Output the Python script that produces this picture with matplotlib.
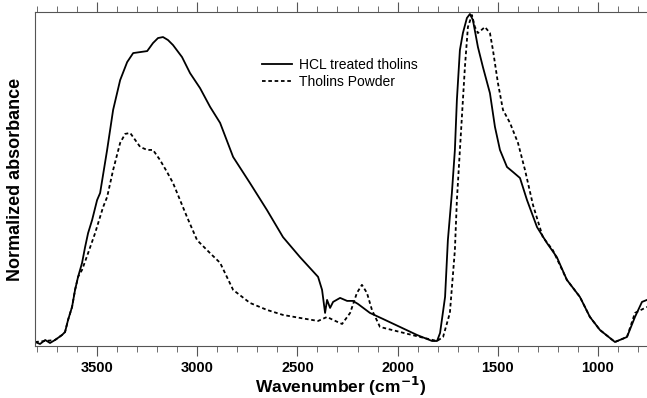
import numpy as np
import matplotlib
matplotlib.use('Agg')
import matplotlib.pyplot as plt
from matplotlib.ticker import MultipleLocator

plt.rcParams['font.family'] = ['Liberation Sans', 'DejaVu Sans']

# HCL treated tholins (wavenumber, normalized absorbance)
hcl_wn = [3809, 3785, 3759, 3735, 3710, 3675, 3660, 3645, 3625, 3610, 3595, 3575, 3560,
          3545, 3525, 3500, 3485, 3450, 3420, 3385,
          3350, 3320, 3285, 3250, 3221, 3196, 3171, 3146, 3121, 3076, 3036, 2986,
          2936, 2886, 2821, 2737, 2652, 2572, 2487, 2397, 2377, 2362, 2352, 2337,
          2322, 2287, 2252, 2223, 2198, 2138, 2073, 1988, 1903, 1828, 1803, 1788,
          1763, 1749, 1729, 1714, 1704, 1689, 1674, 1654, 1639, 1624, 1599, 1574,
          1539, 1514, 1489, 1454, 1424, 1389, 1354, 1304, 1254, 1205, 1155, 1090,
          1040, 990, 915, 855, 815, 780, 755]
hcl_abs = [0.012, 0.006, 0.018, 0.009, 0.018, 0.033, 0.042, 0.078, 0.117, 0.168, 0.207, 0.249, 0.296,
           0.338, 0.377, 0.437, 0.458, 0.587, 0.707, 0.796,
           0.850, 0.877, 0.880, 0.883, 0.907, 0.922, 0.925, 0.916, 0.901, 0.865, 0.817, 0.772,
           0.716, 0.668, 0.566, 0.488, 0.407, 0.326, 0.266, 0.207, 0.168, 0.099, 0.138, 0.114,
           0.132, 0.144, 0.135, 0.135, 0.126, 0.099, 0.081, 0.057, 0.033, 0.015, 0.015, 0.039,
           0.147, 0.317, 0.458, 0.587, 0.737, 0.886, 0.937, 0.982, 0.994, 0.976, 0.895, 0.835,
           0.757, 0.656, 0.587, 0.536, 0.521, 0.503, 0.437, 0.356, 0.308, 0.266, 0.198, 0.147,
           0.087, 0.048, 0.012, 0.027, 0.087, 0.132, 0.138]

# Tholins powder
pow_wn = [3809, 3710, 3675, 3660, 3645, 3625, 3610, 3595, 3575, 3545, 3510, 3470, 3450,
          3420, 3385, 3360, 3335,
          3310, 3285, 3250, 3221, 3186, 3151, 3121, 3086, 3051, 3001, 2936, 2886,
          2821, 2737, 2652, 2572, 2487, 2397, 2352, 2322, 2277, 2237, 2203, 2178,
          2153, 2128, 2088, 1988, 1888, 1803, 1773, 1739, 1714, 1704, 1679, 1664,
          1649, 1629, 1614, 1599, 1564, 1539, 1524, 1499, 1474, 1439, 1399, 1364,
          1324, 1275, 1225, 1155, 1090, 1040, 990, 915, 855, 815, 755]
pow_abs = [0.012, 0.018, 0.033, 0.042, 0.078, 0.117, 0.168, 0.207, 0.228, 0.278, 0.338, 0.416, 0.446,
           0.527, 0.608, 0.635, 0.638,
           0.617, 0.596, 0.587, 0.587, 0.557, 0.521, 0.488, 0.437, 0.386, 0.317, 0.278, 0.249,
           0.168, 0.129, 0.108, 0.093, 0.084, 0.075, 0.087, 0.078, 0.066, 0.099, 0.159, 0.183,
           0.159, 0.108, 0.057, 0.042, 0.027, 0.015, 0.027, 0.099, 0.287, 0.437, 0.686, 0.835,
           0.955, 0.991, 0.955, 0.937, 0.955, 0.937, 0.886, 0.787, 0.707, 0.668, 0.608, 0.527,
           0.422, 0.326, 0.287, 0.198, 0.147, 0.087, 0.048, 0.012, 0.027, 0.099, 0.117]

fig = plt.figure(figsize=(6.47, 3.98), dpi=100)
ax = fig.add_axes([35/647, 1-346/398, 1-35/647, (346-12)/398])

ax.plot(hcl_wn, hcl_abs, color='black', lw=1.3, label='HCL treated tholins')
ax.plot(pow_wn, pow_abs, color='black', lw=1.3, ls=(0, (2, 1.5)), label='Tholins Powder')

ax.set_xlim(3810, 755)
ax.set_ylim(0, 1)
ax.xaxis.set_major_locator(MultipleLocator(500))
ax.xaxis.set_minor_locator(MultipleLocator(100))
ax.set_yticks([])
ax.tick_params(axis='x', which='both', direction='out', top=True, color='#555555')
ax.tick_params(axis='x', which='major', length=7, labelsize=10.5)
ax.tick_params(axis='x', which='minor', length=4)
for lab in ax.get_xticklabels():
    lab.set_fontweight('bold')
for s in ['left', 'top', 'bottom']:
    ax.spines[s].set_color('#555555')
ax.spines['right'].set_visible(False)

ax.set_xlabel('Wavenumber (cm$^{\\mathbf{-1}}$)', fontsize=12.5, fontweight='bold', labelpad=0)
ax.set_ylabel('Normalized absorbance', fontsize=13, fontweight='bold', labelpad=8)

ax.legend(loc='upper left', bbox_to_anchor=(0.35, 0.90), frameon=False,
          fontsize=10, handlelength=2.2, handletextpad=0.5, labelspacing=0.2)

fig.savefig('out.png', dpi=100)
